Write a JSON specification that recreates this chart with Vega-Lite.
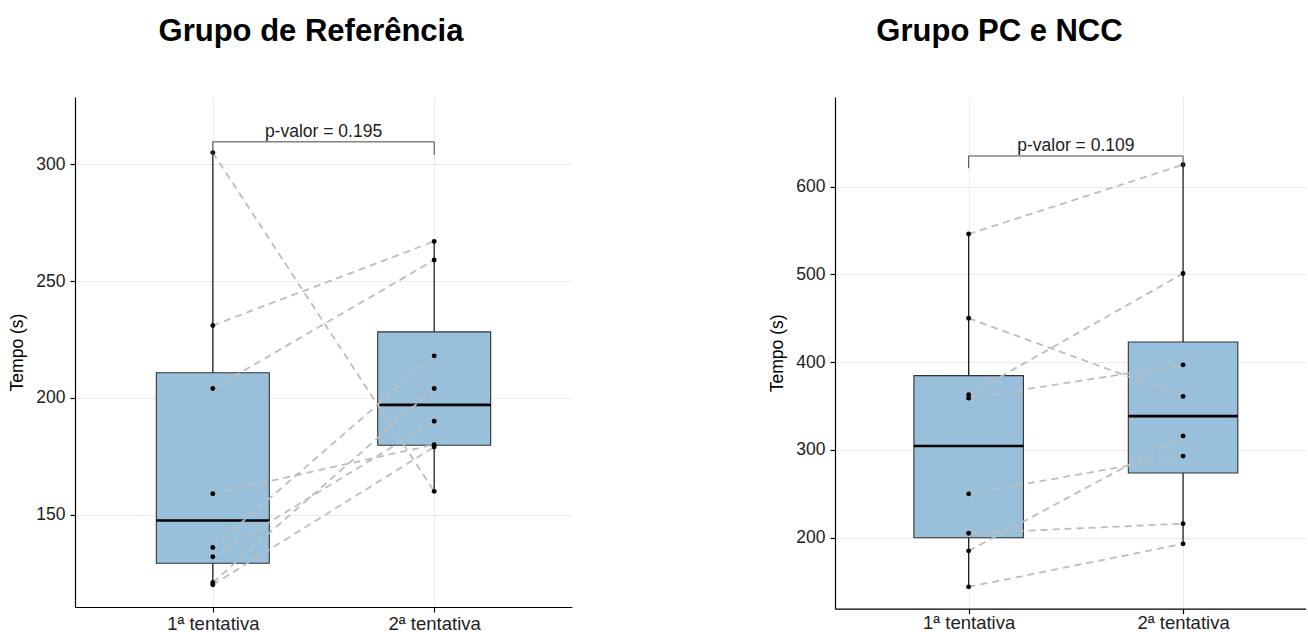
{
  "$schema": "https://vega.github.io/schema/vega-lite/v6.json",
  "padding": {"left": 8, "top": 16, "right": 0, "bottom": 0},
  "background": "white",
  "spacing": 196,
  "config": {
    "font": "Liberation Sans",
    "view": {"stroke": null},
    "axis": {
      "domainColor": "black", "domainWidth": 1.2,
      "tickColor": "black", "tickWidth": 1.2, "tickSize": 5,
      "labelColor": "#222222", "labelFont": "Liberation Sans", "labelFontSize": 17.5,
      "labelPadding": 5,
      "gridColor": "#EBEBEB", "gridWidth": 1,
      "titleFont": "Liberation Sans", "titleFontWeight": "normal", "titleFontSize": 17.5,
      "titleColor": "black", "titlePadding": 9
    },
    "title": {"font": "Liberation Sans", "fontSize": 31, "fontWeight": "bold", "color": "black", "anchor": "middle", "frame": "group", "offset": 49}
  },
  "datasets": {
    "ref": [
      {"id": 1, "tentativa": 1, "tempo": 305}, {"id": 1, "tentativa": 2, "tempo": 160},
      {"id": 2, "tentativa": 1, "tempo": 231}, {"id": 2, "tentativa": 2, "tempo": 267},
      {"id": 3, "tentativa": 1, "tempo": 204}, {"id": 3, "tentativa": 2, "tempo": 259},
      {"id": 4, "tentativa": 1, "tempo": 159}, {"id": 4, "tentativa": 2, "tempo": 180},
      {"id": 5, "tentativa": 1, "tempo": 136}, {"id": 5, "tentativa": 2, "tempo": 218},
      {"id": 6, "tentativa": 1, "tempo": 132}, {"id": 6, "tentativa": 2, "tempo": 190},
      {"id": 7, "tentativa": 1, "tempo": 121}, {"id": 7, "tentativa": 2, "tempo": 204},
      {"id": 8, "tentativa": 1, "tempo": 120}, {"id": 8, "tentativa": 2, "tempo": 179}
    ],
    "pc": [
      {"id": 1, "tentativa": 1, "tempo": 546}, {"id": 1, "tentativa": 2, "tempo": 625},
      {"id": 2, "tentativa": 1, "tempo": 450}, {"id": 2, "tentativa": 2, "tempo": 361},
      {"id": 3, "tentativa": 1, "tempo": 363}, {"id": 3, "tentativa": 2, "tempo": 501},
      {"id": 4, "tentativa": 1, "tempo": 359}, {"id": 4, "tentativa": 2, "tempo": 397},
      {"id": 5, "tentativa": 1, "tempo": 250}, {"id": 5, "tentativa": 2, "tempo": 293},
      {"id": 6, "tentativa": 1, "tempo": 205}, {"id": 6, "tentativa": 2, "tempo": 216},
      {"id": 7, "tentativa": 1, "tempo": 185}, {"id": 7, "tentativa": 2, "tempo": 316},
      {"id": 8, "tentativa": 1, "tempo": 144}, {"id": 8, "tentativa": 2, "tempo": 193}
    ],
    "ref_bracket": [
      {"x": 1, "x2": 2, "y": 309.6, "y2": 309.6},
      {"x": 1, "x2": 1, "y": 304, "y2": 309.6},
      {"x": 2, "x2": 2, "y": 304, "y2": 309.6}
    ],
    "ref_label": [{"x": 1.5, "y": 309.6, "label": "p-valor = 0.195"}],
    "pc_bracket": [
      {"x": 1, "x2": 2, "y": 635, "y2": 635},
      {"x": 1, "x2": 1, "y": 621, "y2": 635},
      {"x": 2, "x2": 2, "y": 621, "y2": 635}
    ],
    "pc_label": [{"x": 1.5, "y": 635, "label": "p-valor = 0.109"}]
  },
  "hconcat": [
    {
      "width": 497,
      "height": 510,
      "title": {"text": "Grupo de Referência", "dx": -12.5},
      "layer": [
        {
          "data": {"name": "ref"},
          "transform": [
            {"aggregate": [
              {"op": "min", "field": "tempo", "as": "lo"},
              {"op": "max", "field": "tempo", "as": "hi"},
              {"op": "q1", "field": "tempo", "as": "q1"},
              {"op": "q3", "field": "tempo", "as": "q3"},
              {"op": "median", "field": "tempo", "as": "med"}
            ], "groupby": ["tentativa"]}
          ],
          "layer": [
            {
              "mark": {"type": "rule", "color": "#222222", "strokeWidth": 1.3},
              "encoding": {
                "x": {"field": "tentativa", "type": "quantitative",
                      "scale": {"domain": [0.4, 2.6], "nice": false, "zero": false},
                      "axis": {"values": [1, 2], "labelExpr": "datum.value == 1 ? '1ª tentativa' : '2ª tentativa'", "title": null, "grid": true, "labelFontSize": 18.5, "labelPadding": 2}},
                "y": {"field": "lo", "type": "quantitative",
                      "scale": {"domain": [110.5, 328.8], "nice": false, "zero": false},
                      "axis": {"values": [150, 200, 250, 300], "title": "Tempo (s)", "grid": true}},
                "y2": {"field": "hi"}
              }
            },
            {
              "mark": {"type": "bar", "size": 113, "fill": "#98C0DA", "stroke": "#333333", "strokeWidth": 1.1},
              "encoding": {
                "x": {"field": "tentativa", "type": "quantitative"},
                "y": {"field": "q1", "type": "quantitative"},
                "y2": {"field": "q3"}
              }
            },
            {
              "mark": {"type": "tick", "orient": "horizontal", "size": 113, "thickness": 2.6, "color": "black", "opacity": 1},
              "encoding": {
                "x": {"field": "tentativa", "type": "quantitative"},
                "y": {"field": "med", "type": "quantitative"}
              }
            }
          ]
        },
        {
          "data": {"name": "ref"},
          "mark": {"type": "line", "color": "#BDBDBD", "strokeWidth": 1.8, "strokeDash": [7, 5]},
          "encoding": {
            "x": {"field": "tentativa", "type": "quantitative"},
            "y": {"field": "tempo", "type": "quantitative"},
            "detail": {"field": "id", "type": "nominal"}
          }
        },
        {
          "data": {"name": "ref"},
          "mark": {"type": "circle", "size": 24, "color": "black", "opacity": 1},
          "encoding": {
            "x": {"field": "tentativa", "type": "quantitative"},
            "y": {"field": "tempo", "type": "quantitative"}
          }
        },
        {
          "data": {"name": "ref_bracket"},
          "mark": {"type": "rule", "color": "#444444", "strokeWidth": 1},
          "encoding": {
            "x": {"field": "x", "type": "quantitative"},
            "x2": {"field": "x2"},
            "y": {"field": "y", "type": "quantitative"},
            "y2": {"field": "y2"}
          }
        },
        {
          "data": {"name": "ref_label"},
          "mark": {"type": "text", "fontSize": 17.5, "color": "#222222", "baseline": "alphabetic", "dy": -5},
          "encoding": {
            "x": {"field": "x", "type": "quantitative"},
            "y": {"field": "y", "type": "quantitative"},
            "text": {"field": "label"}
          }
        }
      ]
    },
    {
      "width": 471,
      "height": 511.7,
      "title": {"text": "Grupo PC e NCC", "dx": -71},
      "layer": [
        {
          "data": {"name": "pc"},
          "transform": [
            {"aggregate": [
              {"op": "min", "field": "tempo", "as": "lo"},
              {"op": "max", "field": "tempo", "as": "hi"},
              {"op": "q1", "field": "tempo", "as": "q1"},
              {"op": "q3", "field": "tempo", "as": "q3"},
              {"op": "median", "field": "tempo", "as": "med"}
            ], "groupby": ["tentativa"]}
          ],
          "layer": [
            {
              "mark": {"type": "rule", "color": "#222222", "strokeWidth": 1.3},
              "encoding": {
                "x": {"field": "tentativa", "type": "quantitative",
                      "scale": {"domain": [0.4, 2.55], "nice": false, "zero": false},
                      "axis": {"values": [1, 2], "labelExpr": "datum.value == 1 ? '1ª tentativa' : '2ª tentativa'", "title": null, "grid": true, "labelFontSize": 18.5, "labelPadding": 0}},
                "y": {"field": "lo", "type": "quantitative",
                      "scale": {"domain": [119.1, 702.2], "nice": false, "zero": false},
                      "axis": {"values": [200, 300, 400, 500, 600], "title": "Tempo (s)", "grid": true}},
                "y2": {"field": "hi"}
              }
            },
            {
              "mark": {"type": "bar", "size": 109.5, "fill": "#98C0DA", "stroke": "#333333", "strokeWidth": 1.1},
              "encoding": {
                "x": {"field": "tentativa", "type": "quantitative"},
                "y": {"field": "q1", "type": "quantitative"},
                "y2": {"field": "q3"}
              }
            },
            {
              "mark": {"type": "tick", "orient": "horizontal", "size": 109.5, "thickness": 2.6, "color": "black", "opacity": 1},
              "encoding": {
                "x": {"field": "tentativa", "type": "quantitative"},
                "y": {"field": "med", "type": "quantitative"}
              }
            }
          ]
        },
        {
          "data": {"name": "pc"},
          "mark": {"type": "line", "color": "#BDBDBD", "strokeWidth": 1.8, "strokeDash": [7, 5]},
          "encoding": {
            "x": {"field": "tentativa", "type": "quantitative"},
            "y": {"field": "tempo", "type": "quantitative"},
            "detail": {"field": "id", "type": "nominal"}
          }
        },
        {
          "data": {"name": "pc"},
          "mark": {"type": "circle", "size": 24, "color": "black", "opacity": 1},
          "encoding": {
            "x": {"field": "tentativa", "type": "quantitative"},
            "y": {"field": "tempo", "type": "quantitative"}
          }
        },
        {
          "data": {"name": "pc_bracket"},
          "mark": {"type": "rule", "color": "#444444", "strokeWidth": 1},
          "encoding": {
            "x": {"field": "x", "type": "quantitative"},
            "x2": {"field": "x2"},
            "y": {"field": "y", "type": "quantitative"},
            "y2": {"field": "y2"}
          }
        },
        {
          "data": {"name": "pc_label"},
          "mark": {"type": "text", "fontSize": 17.5, "color": "#222222", "baseline": "alphabetic", "dy": -5},
          "encoding": {
            "x": {"field": "x", "type": "quantitative"},
            "y": {"field": "y", "type": "quantitative"},
            "text": {"field": "label"}
          }
        }
      ]
    }
  ]
}
